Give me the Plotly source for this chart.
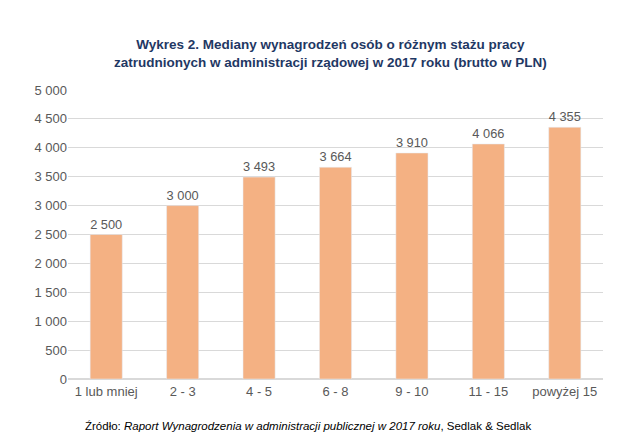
import plotly.graph_objects as go

categories = ["1 lub mniej", "2 - 3", "4 - 5", "6 - 8", "9 - 10", "11 - 15", "powyżej 15"]
values = [2500, 3000, 3493, 3664, 3910, 4066, 4355]
tick_vals = [0, 500, 1000, 1500, 2000, 2500, 3000, 3500, 4000, 4500, 5000]
tick_text = ["0", "500", "1 000", "1 500", "2 000", "2 500", "3 000", "3 500", "4 000", "4 500", "5 000"]
labels = [f"{v:,}".replace(",", " ") for v in values]

fig = go.Figure(go.Bar(
    x=categories, y=values, text=labels, textposition="outside",
    marker_color="#F4B183", width=0.42,
    textfont=dict(color="#595959", size=13), cliponaxis=False,
))
fig.update_layout(
    width=621, height=440, paper_bgcolor="white", plot_bgcolor="white",
    font=dict(family="Liberation Sans, Arial", color="#595959", size=13),
    margin=dict(l=60, r=26, t=82, b=69),
    showlegend=False,
    annotations=[
        dict(text="<b>Wykres 2. Mediany wynagrodzeń osób o różnym stażu pracy<br>zatrudnionych w administracji rządowej w 2017 roku (brutto w PLN)</b>",
             x=0.49, y=1.19, xref="paper", yref="paper", xanchor="center", yanchor="top",
             showarrow=False, font=dict(color="#1F3864", size=13.5), align="center"),
        dict(text="Źródło: <i>Raport Wynagrodzenia w administracji publicznej w 2017 roku</i>, Sedlak & Sedlak",
             x=(75-60)/535, y=-0.163, xref="paper", yref="paper", xanchor="left", yanchor="middle",
             showarrow=False, font=dict(color="#000000", size=11.5)),
    ],
)
fig.update_yaxes(range=[0, 5000], tickvals=tick_vals, ticktext=tick_text,
                 gridcolor="#D9D9D9", zeroline=True, zerolinecolor="#D9D9D9", ticks="", ticklen=0)
fig.update_xaxes(showline=True, linecolor="#D9D9D9", ticks="")
fig.write_html("out.html")
